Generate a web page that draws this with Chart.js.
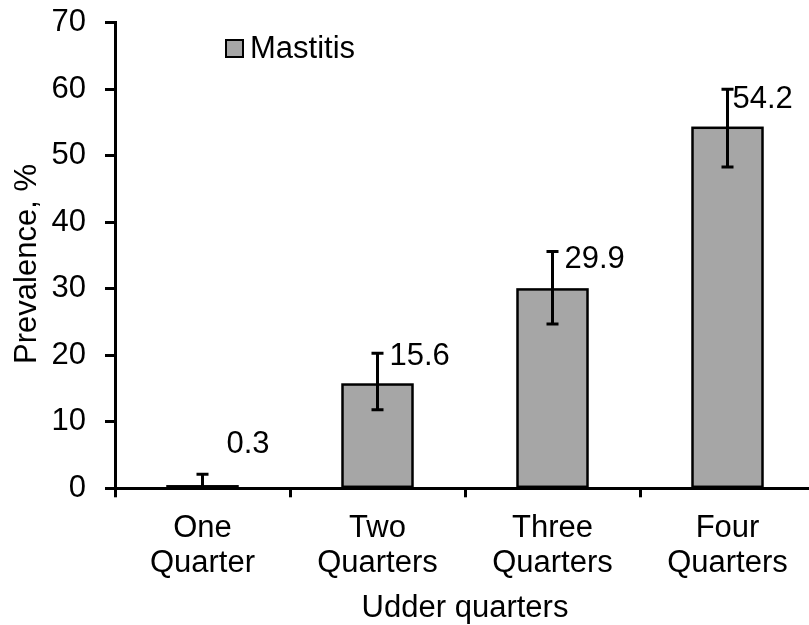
<!DOCTYPE html>
<html>
<head>
<meta charset="utf-8">
<script src="https://cdn.jsdelivr.net/npm/chart.js@4/dist/chart.umd.min.js"></script>
<style>
html,body{margin:0;padding:0;background:#fff;overflow:hidden;}
#wrap{width:816px;height:625px;}
</style>
</head>
<body>
<div id="wrap"><canvas id="c" width="816" height="625"></canvas></div>
<script>
// ---- data ----
const categories = [["One", "Quarter"], ["Two", "Quarters"], ["Three", "Quarters"], ["Four", "Quarters"]];
const seriesName = "Mastitis";
const prevalence = [0.3, 15.6, 29.9, 54.2];
const errUpper = [2.1, 20.3, 35.6, 60.0];
const errLower = [0.0, 11.8, 24.7, 48.3];
const yTicks = [0, 10, 20, 30, 40, 50, 60, 70];
const axisTitleX = "Udder quarters";
const axisTitleY = "Prevalence, %";

const FONT = "'Liberation Sans', Arial, sans-serif";
const FS = 31;
const barFill = "#a6a6a6";

// label placement relative to bar center / error-bar top (styling, not data)
const labelDx = [24, 12, 12, 5];
const labelDy = [-30, 3, 8, 10];

const extras = {
  id: 'extras',
  afterDatasetsDraw(chart) {
    const ctx = chart.ctx;
    const meta = chart.getDatasetMeta(0);
    const ys = chart.scales.y;
    ctx.save();
    // bar outlines (unclamped, so the thin bar keeps its outline)
    ctx.strokeStyle = '#000';
    ctx.lineWidth = 2.5;
    meta.data.forEach((bar) => {
      ctx.strokeRect(bar.x - bar.width / 2, bar.y, bar.width, bar.base - bar.y);
    });
    // error bars
    ctx.lineWidth = 3;
    meta.data.forEach((bar, i) => {
      const x = bar.x;
      const yt = ys.getPixelForValue(errUpper[i]);
      const yb = ys.getPixelForValue(errLower[i]);
      ctx.beginPath();
      ctx.moveTo(x, yt); ctx.lineTo(x, yb);
      ctx.moveTo(x - 6, yt); ctx.lineTo(x + 6, yt);
      if (errLower[i] > 0) { ctx.moveTo(x - 6, yb); ctx.lineTo(x + 6, yb); }
      ctx.stroke();
    });
    // value labels
    ctx.fillStyle = '#000';
    ctx.font = FS + 'px ' + FONT;
    ctx.textAlign = 'left';
    ctx.textBaseline = 'middle';
    meta.data.forEach((bar, i) => {
      const yt = ys.getPixelForValue(errUpper[i]);
      ctx.fillText(prevalence[i].toFixed(1), bar.x + labelDx[i], yt + labelDy[i]);
    });
    // legend
    ctx.fillStyle = barFill;
    ctx.fillRect(226, 40, 17, 17);
    ctx.lineWidth = 2;
    ctx.strokeStyle = '#000';
    ctx.strokeRect(226, 40, 17, 17);
    ctx.fillStyle = '#000';
    ctx.fillText(seriesName, 250, 49);
    // y title
    ctx.save();
    ctx.translate(27, 264);
    ctx.rotate(-Math.PI / 2);
    ctx.textAlign = 'center';
    ctx.fillText(axisTitleY, 0, 0);
    ctx.restore();
    ctx.restore();
  }
};

new Chart(document.getElementById('c'), {
  type: 'bar',
  data: {
    labels: categories,
    datasets: [{
      label: seriesName,
      data: prevalence,
      backgroundColor: barFill,
      borderColor: '#000',
      borderWidth: 0,
      barPercentage: 0.4,
      categoryPercentage: 1.0
    }]
  },
  options: {
    responsive: false,
    animation: false,
    devicePixelRatio: 1,
    layout: { padding: { top: 22.7, right: 1, bottom: 0, left: 0 } },
    plugins: { legend: { display: false }, tooltip: { enabled: false } },
    scales: {
      x: {
        grid: { display: true, drawOnChartArea: false, offset: true, color: '#000', lineWidth: 3, tickLength: 9 },
        border: { display: true, color: '#000', width: 3 },
        ticks: { color: '#000', font: { family: FONT, size: FS, lineHeight: 1.13 }, padding: 14, maxRotation: 0, autoSkip: false },
        title: { display: true, text: axisTitleX, color: '#000', font: { family: FONT, size: FS, lineHeight: 1.0 }, padding: { top: 0, bottom: 1 } },
        afterFit(s) { s.height = 625 - 488.3; s.paddingLeft = 0; s.paddingRight = 0; }
      },
      y: {
        min: 0, max: 70,
        afterBuildTicks(s) { s.ticks = yTicks.map(v => ({ value: v })); },
        grid: { display: true, drawOnChartArea: false, color: '#000', lineWidth: 3, tickLength: 10 },
        border: { display: true, color: '#000', width: 3 },
        ticks: { color: '#000', font: { family: FONT, size: FS }, padding: 19 },
        afterFit(s) { s.width = 115; s.paddingTop = 0; s.paddingBottom = 0; }
      }
    }
  },
  plugins: [extras]
});
</script>
</body>
</html>
